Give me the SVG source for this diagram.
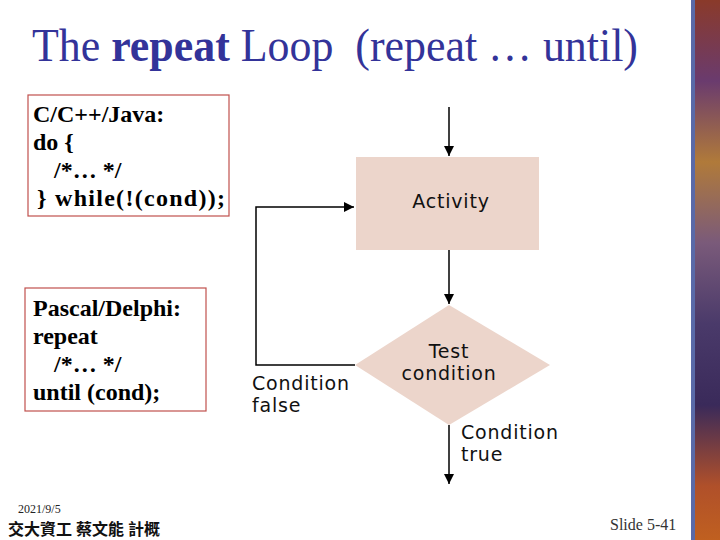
<svg xmlns="http://www.w3.org/2000/svg" width="720" height="540" viewBox="0 0 720 540">
<defs>
<style>
.code{font-family:"Liberation Serif",serif;font-weight:bold;font-size:24px;fill:#000}
.box{fill:#fff;stroke:#c0504d;stroke-width:1.2}
.lbl{font-family:"DejaVu Sans","Liberation Sans",sans-serif;font-size:19px;letter-spacing:0.8px;fill:#111}
.node{fill:#ecd5cb}
.edge{fill:none;stroke:#000;stroke-width:1.5}
</style>
<marker id="ah" viewBox="0 0 10 10" refX="10" refY="5" markerWidth="10" markerHeight="10" markerUnits="userSpaceOnUse" orient="auto">
<path d="M0,0 L10,5 L0,10 z" fill="#000"/>
</marker>
<linearGradient id="strip" x1="0" y1="0" x2="0" y2="1">
<stop offset="0" stop-color="#8a3a2a"/>
<stop offset="0.15" stop-color="#6a3b6e"/>
<stop offset="0.3" stop-color="#b07a3a"/>
<stop offset="0.45" stop-color="#7a5a7a"/>
<stop offset="0.6" stop-color="#4a3a6a"/>
<stop offset="0.75" stop-color="#3a2a5a"/>
<stop offset="0.9" stop-color="#b0502a"/>
<stop offset="1" stop-color="#c06020"/>
</linearGradient>
</defs>
<rect width="720" height="540" fill="#fff"/>
<rect x="691" y="0" width="4" height="540" fill="#5a6aa8"/>
<rect x="695" y="0" width="25" height="540" fill="url(#strip)"/>

<text x="32" y="61" font-family="Liberation Serif,serif" font-size="47" fill="#333399" xml:space="preserve" textLength="606" lengthAdjust="spacingAndGlyphs">The <tspan font-weight="bold">repeat</tspan> Loop  (repeat … until)</text>

<g id="code-c">
<rect class="box" x="28" y="95" width="201" height="121"/>
<text class="code" x="33" y="122">C/C++/Java:</text>
<text class="code" x="33" y="150">do {</text>
<text class="code" x="54" y="178">/*… */</text>
<text class="code" x="37" y="206" textLength="188" lengthAdjust="spacing">} while(!(cond));</text>
</g>

<g id="code-pascal">
<rect class="box" x="25" y="288" width="181" height="123"/>
<text class="code" x="33" y="316">Pascal/Delphi:</text>
<text class="code" x="33" y="344">repeat</text>
<text class="code" x="54" y="372">/*… */</text>
<text class="code" x="33" y="400">until (cond);</text>
</g>

<g id="activity">
<rect class="node" x="356" y="157" width="183" height="93"/>
<text class="lbl" x="451" y="208" text-anchor="middle">Activity</text>
</g>

<g id="test">
<polygon class="node" points="449,305 550,365 449,425 355,365"/>
<text class="lbl" x="449" y="358" text-anchor="middle">Test</text>
<text class="lbl" x="449" y="380" text-anchor="middle">condition</text>
</g>

<g id="connectors">
<line class="edge" x1="449" y1="107" x2="449" y2="156" marker-end="url(#ah)"/>
<line class="edge" x1="449" y1="250" x2="449" y2="304" marker-end="url(#ah)"/>
<polyline class="edge" points="355,365 256,365 256,207 354,207" marker-end="url(#ah)"/>
<line class="edge" x1="449" y1="425" x2="449" y2="484" marker-end="url(#ah)"/>
</g>

<g id="labels">
<text class="lbl" x="252" y="390">Condition</text>
<text class="lbl" x="252" y="412">false</text>
<text class="lbl" x="461" y="439">Condition</text>
<text class="lbl" x="461" y="461">true</text>
</g>

<text x="18" y="513" font-family="Liberation Serif,serif" font-size="12" fill="#222">2021/9/5</text>
<text x="8" y="535" font-family="Liberation Serif,'Noto Sans CJK TC',serif" font-weight="bold" font-size="16" fill="#111">交大資工 蔡文能 計概</text>
<text x="610" y="530" font-family="Liberation Serif,serif" font-size="16" fill="#333">Slide 5-41</text>
</svg>
